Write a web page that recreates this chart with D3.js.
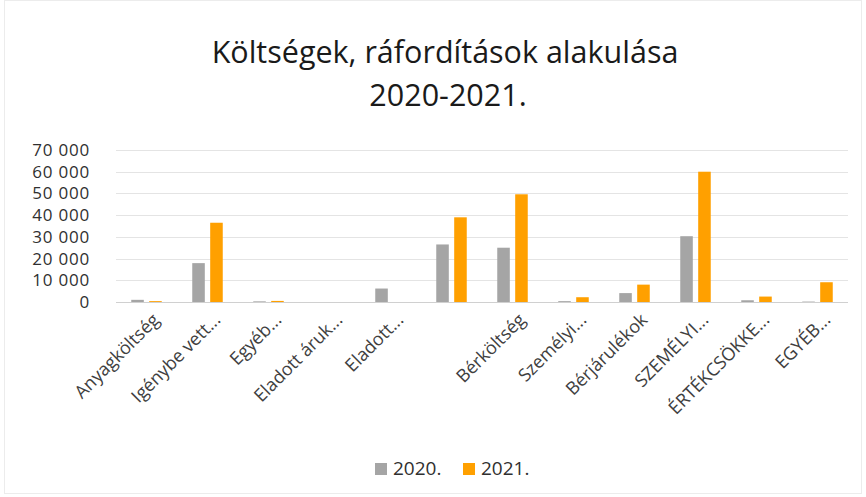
<!DOCTYPE html>
<html>
<head>
<meta charset="utf-8">
<script src="https://cdn.jsdelivr.net/npm/d3@7"></script>
<style>
  body { margin: 0; background: #fff; }
  text { font-family: "Open Sans", "Noto Sans", sans-serif; fill: #404040; }
</style>
</head>
<body>
<div id="chart"></div>
<script>
var categories = ["Anyagköltség", "Igénybe vett...", "Egyéb...", "Eladott áruk...", "Eladott...", "",
                  "Bérköltség", "Személyi...", "Bérjárulékok", "SZEMÉLYI...", "ÉRTÉKCSÖKKE...", "EGYÉB..."];
var series = ["2020.", "2021."];
var values2020 = [1000, 17900, 300, 0, 6200, 26500, 25000, 400, 4100, 30300, 800, 200];
var values2021 = [400, 36500, 500, 0, 0, 39000, 49600, 2200, 8000, 60000, 2500, 9100];
var yTicks = [0, 10000, 20000, 30000, 40000, 50000, 60000, 70000];
var colors = ["#a5a5a5", "#ffa000"];

var W = 866, H = 497;
var margin = {top: 150, right: 18, bottom: 195, left: 116},
    width = W - margin.left - margin.right,
    height = H - margin.top - margin.bottom;

var svg = d3.select("#chart").append("svg")
    .attr("width", W)
    .attr("height", H);

svg.append("rect")
    .attr("x", 4.5).attr("y", 0.5)
    .attr("width", W - 9).attr("height", H - 4)
    .attr("fill", "none")
    .attr("stroke", "#ececec");

svg.append("text")
    .attr("x", 445).attr("y", 63)
    .attr("text-anchor", "middle")
    .style("font-size", "30.5px")
    .style("fill", "#1a1a1a")
    .text("Költségek, ráfordítások alakulása");
svg.append("text")
    .attr("x", 448).attr("y", 106)
    .attr("text-anchor", "middle")
    .style("font-size", "30.5px")
    .style("fill", "#1a1a1a")
    .text("2020-2021.");

var g = svg.append("g")
    .attr("transform", "translate(" + margin.left + "," + margin.top + ")");

var locale = d3.formatLocale({decimal: ",", thousands: " ", grouping: [3], currency: ["", " Ft"]});
var fmt = locale.format(",d");

var y = d3.scaleLinear().domain([0, 70000]).range([height, 0]);
var x0 = d3.scaleBand().domain(categories.map(function (d, i) { return i; }))
    .range([0, width]).paddingInner(0.5).paddingOuter(0.25);
var x1 = d3.scaleBand().domain([0, 1]).range([0, x0.bandwidth()]).paddingInner(0.3);

// gridlines
g.append("g")
    .selectAll("line")
    .data(yTicks)
    .enter().append("line")
      .attr("x1", 0).attr("x2", width)
      .attr("y1", function (d) { return Math.round(y(d)) + 0.5; })
      .attr("y2", function (d) { return Math.round(y(d)) + 0.5; })
      .attr("stroke", function (d) { return d === 0 ? "#d0d0d0" : "#e4e4e4"; })
      .attr("stroke-width", 1);

var yAxis = g.append("g")
    .call(d3.axisLeft(y).tickValues(yTicks).tickFormat(fmt).tickSize(0).tickPadding(26));
yAxis.select(".domain").remove();
yAxis.selectAll("text")
    .style("font-size", "17px")
    .style("letter-spacing", "0.8px")
    .style("fill", "#303030");

var data = categories.map(function (c, i) {
  return {i: i, vals: [values2020[i], values2021[i]]};
});

g.append("g")
  .selectAll("g")
  .data(data)
  .enter().append("g")
    .attr("transform", function (d) { return "translate(" + x0(d.i) + ",0)"; })
  .selectAll("rect")
  .data(function (d) { return d.vals; })
  .enter().append("rect")
    .attr("x", function (d, k) { return x1(k); })
    .attr("y", function (d) { return y(d); })
    .attr("width", x1.bandwidth())
    .attr("height", function (d) { return height - y(d); })
    .attr("fill", function (d, k) { return colors[k]; });

var xAxis = g.append("g")
    .attr("transform", "translate(0," + height + ")")
    .call(d3.axisBottom(x0).tickFormat(function (i) { return categories[i]; }).tickSize(0).tickPadding(0));
xAxis.select(".domain").remove();
xAxis.selectAll("text")
    .style("font-size", "18px")
    .style("fill", "#404040")
    .attr("text-anchor", "end")
    .attr("dy", 0)
    .attr("transform", "translate(14,19) rotate(-45)");

var legend = svg.append("g").attr("transform", "translate(375,463)");
var lx = [0, 88];
series.forEach(function (s, k) {
  legend.append("rect")
    .attr("x", lx[k]).attr("y", 0)
    .attr("width", 12).attr("height", 12)
    .attr("fill", colors[k]);
  legend.append("text")
    .attr("x", lx[k] + 18).attr("y", 12)
    .style("font-size", "19px")
    .style("fill", "#303030")
    .text(s);
});
</script>
</body>
</html>
